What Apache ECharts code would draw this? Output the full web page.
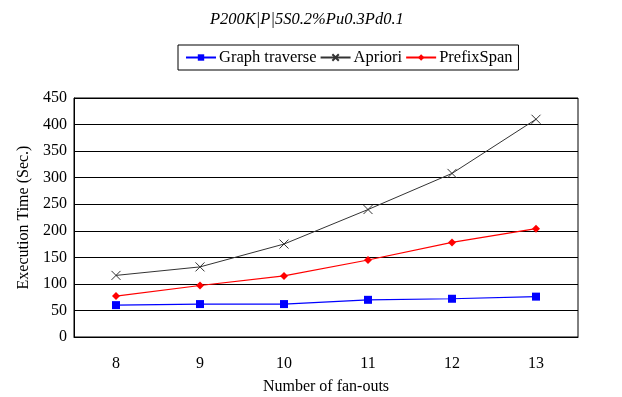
<!DOCTYPE html>
<html>
<head>
<meta charset="utf-8">
<script src="https://cdn.jsdelivr.net/npm/echarts@6/dist/echarts.min.js"></script>
<style>
  html, body { margin: 0; padding: 0; background: #fff; }
  #chart { width: 622px; height: 397px; }
</style>
</head>
<body>
<div id="chart"></div>
<script>
const fanOuts = ['8', '9', '10', '11', '12', '13'];
const graphTraverse = [60, 62, 62, 70, 72, 76];
const apriori = [116, 132, 175, 240, 308, 410];
const prefixSpan = [77, 97, 115, 145, 178, 204];

const serif = '"Liberation Serif", "DejaVu Serif", serif';
const chart = echarts.init(document.getElementById('chart'));

chart.setOption({
  animation: false,
  backgroundColor: '#fff',
  title: {
    text: 'P200K|P|5S0.2%Pu0.3Pd0.1',
    left: 205,
    top: 6,
    textStyle: { fontFamily: serif, fontStyle: 'italic', fontWeight: 'normal', fontSize: 16.5, color: '#000' }
  },
  legend: {
    top: 45,
    left: 178,
    padding: [4, 6, 4, 7],
    itemGap: 3,
    itemWidth: 30,
    itemHeight: 8,
    borderColor: '#000',
    borderWidth: 1,
    textStyle: { fontFamily: serif, fontSize: 16.5, color: '#000', padding: [0, 0, 0, -2] },
    data: ['Graph traverse', 'Apriori', 'PrefixSpan']
  },
  grid: {
    left: 74, right: 44, top: 98, bottom: 60,
    outerBoundsMode: 'none',
    show: true, borderColor: '#000', borderWidth: 1
  },
  xAxis: {
    type: 'category',
    data: fanOuts,
    name: 'Number of fan-outs',
    nameLocation: 'middle',
    nameGap: 42,
    nameTextStyle: { fontFamily: serif, fontSize: 16, color: '#000' },
    axisLine: { lineStyle: { color: '#000' } },
    axisTick: { inside: true, length: 5, lineStyle: { color: '#000' } },
    axisLabel: { fontFamily: serif, fontSize: 16, color: '#000', margin: 19 }
  },
  yAxis: {
    type: 'value',
    min: 0,
    max: 450,
    interval: 50,
    name: 'Execution Time (Sec.)',
    nameLocation: 'middle',
    nameGap: 36,
    nameTextStyle: { fontFamily: serif, fontSize: 16, color: '#000' },
    axisLine: { show: true, lineStyle: { color: '#000' } },
    axisTick: { show: false },
    axisLabel: { fontFamily: serif, fontSize: 16, color: '#000', margin: 7 },
    splitLine: { lineStyle: { color: '#000', width: 1 } }
  },
  series: [
    {
      name: 'Graph traverse',
      type: 'line',
      data: graphTraverse,
      symbol: 'rect',
      symbolSize: 8,
      lineStyle: { color: '#0000ff', width: 1.2 },
      itemStyle: { color: '#0000ff' }
    },
    {
      name: 'Apriori',
      type: 'line',
      data: apriori,
      symbol: 'path://M0,0L10,10M10,0L0,10',
      symbolSize: 9,
      lineStyle: { color: '#333', width: 1 },
      itemStyle: { color: '#333', borderColor: '#333', borderWidth: 1 }
    },
    {
      name: 'PrefixSpan',
      type: 'line',
      data: prefixSpan,
      symbol: 'diamond',
      symbolSize: 8,
      lineStyle: { color: '#ff0000', width: 1.2 },
      itemStyle: { color: '#ff0000' }
    }
  ]
});
</script>
</body>
</html>
